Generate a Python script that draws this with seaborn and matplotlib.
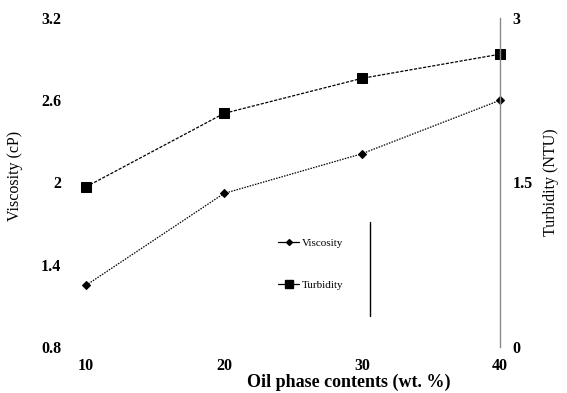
import matplotlib
matplotlib.use("Agg")
import matplotlib.pyplot as plt
from matplotlib.lines import Line2D
import seaborn as sns
import pandas as pd

oil_content = [10, 20, 30, 40]
viscosity = [1.25, 1.92, 2.21, 2.60]
turbidity = [1.46, 2.13, 2.45, 2.67]
x_ticks = [10, 20, 30, 40]
visc_ticks = [0.8, 1.4, 2.0, 2.6, 3.2]
visc_ticklabels = ["0.8", "1.4", "2", "2.6", "3.2"]
turb_ticks = [0, 1.5, 3]
turb_ticklabels = ["0", "1.5", "3"]

sns.set_theme(style="white")
plt.rcParams["font.family"] = ["Liberation Serif", "DejaVu Serif"]
plt.rcParams["text.color"] = "black"
plt.rcParams["axes.labelcolor"] = "black"
plt.rcParams["xtick.color"] = "black"
plt.rcParams["ytick.color"] = "black"

df = pd.DataFrame({"oil": oil_content, "visc": viscosity, "turb": turbidity})

W, H = 567, 393
fig = plt.figure(figsize=(W / 100, H / 100), dpi=100)
left, right, top, bottom = 86, 500, 18, 347
ax = fig.add_axes([left / W, 1 - bottom / H, (right - left) / W, (bottom - top) / H])
ax2 = ax.twinx()

sns.lineplot(data=df, x="oil", y="visc", ax=ax, color="black", lw=0.9,
             marker="D", markersize=4, markeredgecolor="black",
             dashes=False, clip_on=False)
ax.lines[-1].set_linestyle((0, (1.2, 1.0)))
sns.lineplot(data=df, x="oil", y="turb", ax=ax2, color="black", lw=0.9,
             marker="s", markersize=7.5, markeredgecolor="black",
             dashes=False, clip_on=False)
ax2.lines[-1].set_linestyle((0, (2.5, 1.2)))

ax.set_xlim(10, 40)
ax.set_ylim(0.8, 3.2)
ax2.set_ylim(0, 3)

tick_font = dict(fontsize=11.5, fontweight="bold")
ax.set_xticks(x_ticks)
ax.set_xticklabels([str(v) for v in x_ticks], **tick_font)
ax.set_yticks(visc_ticks)
ax.set_yticklabels(visc_ticklabels, **tick_font)
ax2.set_yticks(turb_ticks)
ax2.set_yticklabels(turb_ticklabels, **tick_font)

ax.tick_params(axis="x", length=0, pad=8)
ax.tick_params(axis="y", length=0, pad=18)
ax2.tick_params(axis="y", length=0, pad=9)

for a in (ax, ax2):
    for s in ("top", "left", "bottom", "right"):
        a.spines[s].set_visible(False)
    a.grid(False)
ax2.spines["right"].set_visible(True)
ax2.spines["right"].set_color("#8a8a8a")
ax2.spines["right"].set_linewidth(1.0)

ax.set_xlabel("Oil phase contents (wt. %)", fontsize=13, fontweight="bold")
ax.xaxis.set_label_coords(0.635, -0.082)
ax.set_ylabel("Viscosity (cP)", fontsize=11.5)
ax.yaxis.set_label_coords(-0.152, 0.52)
ax2.set_ylabel("Turbidity (NTU)", fontsize=11.5)
ax2.yaxis.set_label_coords(1.105, 0.5)

# legend entries
handles = [
    Line2D([], [], color="black", lw=0.9, marker="D", markersize=3),
    Line2D([], [], color="black", lw=0.9, marker="s", markersize=6),
]
leg = ax.legend(handles, ["Viscosity", "Turbidity"], loc="upper left",
                bbox_to_anchor=(0.44, 0.36), frameon=False, fontsize=8,
                handlelength=1.9, handletextpad=0.2, labelspacing=2.9)

# divider line beside the legend
ax.add_line(Line2D([0.686, 0.686], [0.094, 0.38], transform=ax.transAxes,
                   color="black", lw=1.0))

fig.savefig("out.png", dpi=100, facecolor="white")
